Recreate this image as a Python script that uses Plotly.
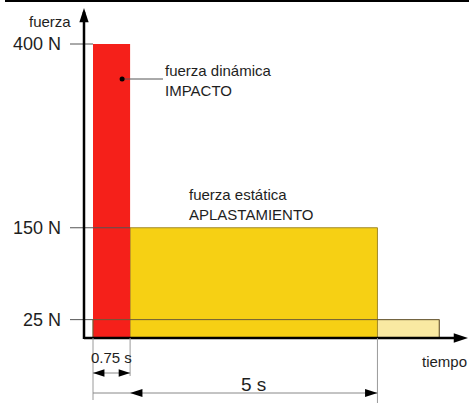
import plotly.graph_objects as go

# ---------------- data ----------------
phase_names = ["fuerza dinámica IMPACTO", "fuerza estática APLASTAMIENTO", "fuerza residual"]
phase_start_s = [0.0, 0.75, 0.0]
phase_dur_s = [0.75, 5.0, 7.0]
phase_force_n = [400, 150, 25]
force_ticks = [400, 150, 25]
force_tick_labels = ["400 N", "150 N", "25 N"]
dim_075_label = "0.75 s"
dim_5_label = "5 s"

# ---------------- scale helpers (pixel <-> data) ----------------
W, H = 469, 405
X0_PX, PX_PER_S = 93.0, 49.47
Y0_PX, PX_PER_N = 338.0, 0.735


def tx(px):
    return (px - X0_PX) / PX_PER_S


def vy(py):
    return (Y0_PX - py) / PX_PER_N


FONT = "Arial"
TXT = "#1e1e1e"
RED = "#f5201a"
YEL = "#f6d014"
LYEL = "#f9e9a2"

fig = go.Figure()

# tick lines (behind bars)
for v, t_end in zip(force_ticks, [0.0, phase_start_s[1], 0.0]):
    fig.add_trace(go.Scatter(x=[tx(70), t_end], y=[v, v], mode="lines",
                             line=dict(color="#555555", width=1), hoverinfo="skip"))

# bars
fills = [RED, YEL, LYEL]
outlines = ["rgba(0,0,0,0)", "#a08a2a", "#b8a868"]
order = [2, 1, 0]
for i in order:
    fig.add_trace(go.Bar(x=[phase_start_s[i] + phase_dur_s[i] / 2], y=[phase_force_n[i]],
                         width=[phase_dur_s[i]], base=0,
                         marker=dict(color=fills[i], line=dict(color=outlines[i], width=1)),
                         hoverinfo="skip"))
# residual outline on top
fig.add_trace(go.Bar(x=[phase_start_s[2] + phase_dur_s[2] / 2], y=[phase_force_n[2]],
                     width=[phase_dur_s[2]], base=0,
                     marker=dict(color="rgba(0,0,0,0)", line=dict(color="#6a5a3a", width=1)),
                     hoverinfo="skip"))

# axes with arrows
ax_t = tx(84)
fig.add_trace(go.Scatter(x=[ax_t, ax_t], y=[vy(339), vy(12)], mode="lines",
                         line=dict(color="black", width=2.5), hoverinfo="skip"))
fig.add_trace(go.Scatter(x=[ax_t, tx(460)], y=[0, 0], mode="lines",
                         line=dict(color="black", width=2.5), hoverinfo="skip"))
fig.add_trace(go.Scatter(x=[ax_t, tx(468)], y=[vy(8), 0], mode="markers",
                         marker=dict(symbol="arrow", size=15, color="black",
                                     angle=[0, 90]), hoverinfo="skip"))

# dimension extension lines
t_end_impact = phase_start_s[0] + phase_dur_s[0]
t_end_static = phase_start_s[1] + phase_dur_s[1]
for t, py in [(0.0, 400), (t_end_impact, 376), (t_end_static, 403)]:
    fig.add_trace(go.Scatter(x=[t, t], y=[0, vy(py)], mode="lines",
                             line=dict(color="#9a9a9a", width=1), hoverinfo="skip"))
# 0.75 s dimension
y075 = vy(373)
fig.add_trace(go.Scatter(x=[0.0, t_end_impact], y=[y075, y075], mode="lines",
                         line=dict(color="#888888", width=1), hoverinfo="skip"))
fig.add_trace(go.Scatter(x=[0.0, t_end_impact], y=[y075, y075], mode="markers",
                         marker=dict(symbol="arrow", size=12, color="black", angle=[-90, 90]),
                         hoverinfo="skip"))
# 5 s dimension
y5 = vy(393)
fig.add_trace(go.Scatter(x=[0.0, t_end_static], y=[y5, y5], mode="lines",
                         line=dict(color="#888888", width=1), hoverinfo="skip"))
fig.add_trace(go.Scatter(x=[t_end_impact, t_end_static], y=[y5, y5], mode="markers",
                         marker=dict(symbol="arrow", size=13, color="black", angle=[-90, 90]),
                         hoverinfo="skip"))

# leader line for impact label
t_dot = t_end_impact - 8 / PX_PER_S
fig.add_trace(go.Scatter(x=[t_dot, tx(163)], y=[vy(79), vy(79)], mode="lines",
                         line=dict(color="#555555", width=1), hoverinfo="skip"))
fig.add_trace(go.Scatter(x=[t_dot], y=[vy(79)], mode="markers",
                         marker=dict(size=5, color="black"), hoverinfo="skip"))

annotations = []
for v, lab in zip(force_ticks, force_tick_labels):
    annotations.append(dict(x=tx(63), y=v, xref="x", yref="y", text=lab, showarrow=False,
                            xanchor="right", yanchor="middle",
                            font=dict(family=FONT, size=18, color=TXT)))
annotations += [
    dict(x=tx(73), y=vy(21), text="fuerza", xanchor="right", yanchor="middle",
         font=dict(family=FONT, size=15, color=TXT)),
    dict(x=tx(444), y=vy(361), text="tiempo", xanchor="center", yanchor="middle",
         font=dict(family=FONT, size=15, color=TXT)),
    dict(x=t_end_impact / 2, y=vy(357), text=dim_075_label, xanchor="center", yanchor="middle",
         font=dict(family=FONT, size=15, color=TXT)),
    dict(x=(t_end_impact + t_end_static) / 2, y=vy(384), text=dim_5_label, xanchor="center",
         yanchor="middle", font=dict(family=FONT, size=19, color=TXT)),
    dict(x=tx(163), y=vy(80), text="fuerza dinámica<br>IMPACTO", xanchor="left",
         yanchor="middle", align="left", font=dict(family=FONT, size=15, color=TXT)),
    dict(x=tx(187), y=vy(204), text="fuerza estática<br>APLASTAMIENTO", xanchor="left",
         yanchor="middle", align="left", font=dict(family=FONT, size=15, color=TXT)),
]
for a in annotations:
    a.setdefault("xref", "x")
    a.setdefault("yref", "y")
    a.setdefault("showarrow", False)

fig.update_layout(
    width=W, height=H, margin=dict(l=0, r=0, t=0, b=0),
    paper_bgcolor="white", plot_bgcolor="white", showlegend=False, barmode="overlay",
    font=dict(family=FONT),
    xaxis=dict(range=[tx(0), tx(W)], visible=False, fixedrange=True),
    yaxis=dict(range=[vy(H), vy(0)], visible=False, fixedrange=True),
    annotations=annotations,
    shapes=[dict(type="line", xref="paper", yref="paper", x0=5 / W, x1=1, y0=1 - 1 / H,
                 y1=1 - 1 / H, line=dict(color="black", width=2))],
)

fig.write_html("out.html", config={"displayModeBar": False},
               post_script="document.body.style.margin='0';")
